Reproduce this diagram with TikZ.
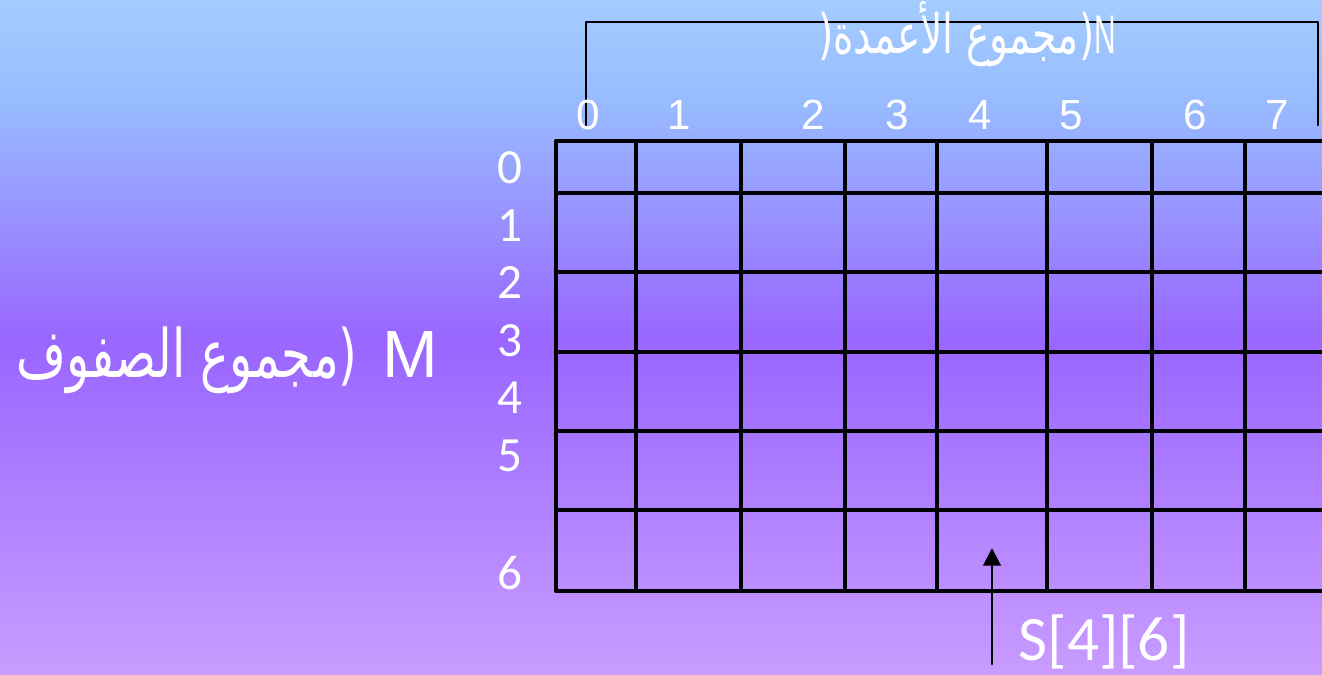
\documentclass[tikz,border=0pt]{standalone}
\usepackage{fontspec}
\setmainfont{Liberation Sans}
\newfontfamily\arabicfont[Script=Arabic,FakeStretch=0.72]{DejaVu Sans}
\newfontfamily\calibrifont{Carlito}
\TeXXeTstate=1
\usetikzlibrary{arrows.meta}
\definecolor{skytop}{RGB}{164,204,255}
\definecolor{skylow}{RGB}{152,188,255}
\definecolor{violetmid}{RGB}{153,102,255}
\definecolor{lilacbot}{RGB}{200,156,255}
\tikzset{
  gridline/.style={line width=2pt},
  bracket/.style={line width=1.3pt},
  collabel/.style={text=white,inner sep=0pt,font=\fontsize{24}{26}\selectfont},
  rowlabel/.style={text=white,inner sep=0pt,font=\calibrifont\fontsize{28}{30}\selectfont},
}
\begin{document}
\begin{tikzpicture}[x=0.02cm,y=-0.02cm,line cap=round,line join=round]
  \useasboundingbox (0,0) rectangle (1322,674);
  \shade[top color=skytop,bottom color=skylow] (0,0) rectangle (1322,100);
  \shade[top color=skylow,bottom color=violetmid] (0,100) rectangle (1322,340);
  \shade[top color=violetmid,bottom color=lilacbot] (0,340) rectangle (1322,674);
  % bracket over the columns
  \coordinate (bl) at (586,125);
  \coordinate (tl) at (586,22);
  \coordinate (tr) at (1318,22);
  \coordinate (br) at (1318,125);
  \draw[bracket] (bl) -- (tl) -- (tr) -- (br);
  \node[text=white,inner sep=0pt,font=\arabicfont\fontsize{31}{33}\selectfont] (colsum) at (967,34)
    {(\beginR مجموع الأعمدة\endR(\fontspec{Liberation Sans}[FakeStretch=0.55]N};
  % the table
  \draw[gridline] (556,141) -- (1322,141);
  \draw[gridline] (556,193) -- (1322,193);
  \draw[gridline] (556,272) -- (1322,272);
  \draw[gridline] (556,352) -- (1322,352);
  \draw[gridline] (556,431) -- (1322,431);
  \draw[gridline] (556,510) -- (1322,510);
  \draw[gridline] (556,591) -- (1322,591);
  \draw[gridline] (556,141) -- (556,591);
  \draw[gridline] (636,141) -- (636,591);
  \draw[gridline] (741,141) -- (741,591);
  \draw[gridline] (845,141) -- (845,591);
  \draw[gridline] (937,141) -- (937,591);
  \draw[gridline] (1047,141) -- (1047,591);
  \draw[gridline] (1152,141) -- (1152,591);
  \draw[gridline] (1245,141) -- (1245,591);
  \node[collabel] (c0) at (588,115) {0};
  \node[collabel] (c1) at (679,115) {1};
  \node[collabel] (c2) at (813,115) {2};
  \node[collabel] (c3) at (897,115) {3};
  \node[collabel] (c4) at (980,115) {4};
  \node[collabel] (c5) at (1071,115) {5};
  \node[collabel] (c6) at (1195,115) {6};
  \node[collabel] (c7) at (1277,115) {7};
  \node[rowlabel] (r0) at (510,168) {0};
  \node[rowlabel] (r1) at (510,226) {1};
  \node[rowlabel] (r2) at (510,283) {2};
  \node[rowlabel] (r3) at (510,341) {3};
  \node[rowlabel] (r4) at (510,398) {4};
  \node[rowlabel] (r5) at (510,456) {5};
  \node[rowlabel] (r6) at (510,573) {6};
  \node[text=white,inner sep=0pt,anchor=east,font=\arabicfont\fontsize{38}{40}\selectfont] (rowsum) at (438,360)
    {\beginR مجموع الصفوف\endR(\hspace{14pt}\fontspec{Liberation Sans}M};
  % pointer to one cell
  \node[text=white,inner sep=0pt,font=\calibrifont\fontsize{36}{38}\selectfont] (cellref) at (1104,642) {S[4][6]};
  \coordinate (tail) at (992,664);
  \coordinate (cell) at (992,548);
  \draw[line width=1.2pt,-{Triangle[width=10pt,length=10pt]}] (tail) -- (cell);
\end{tikzpicture}
\end{document}
